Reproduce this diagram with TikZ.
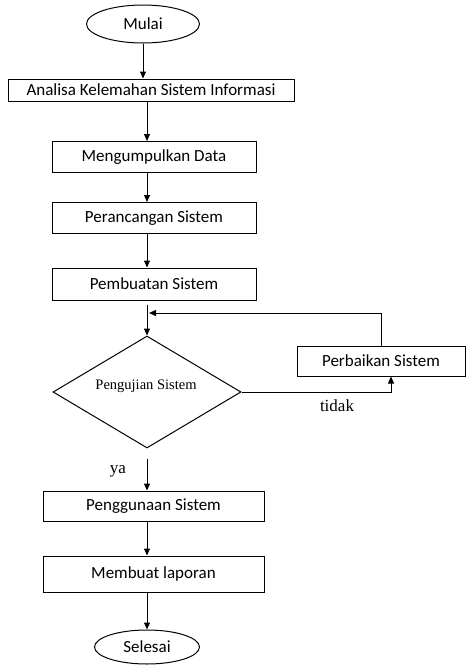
\documentclass[tikz,border=0pt]{standalone}
\usepackage{fontspec}
\setmainfont{Carlito}
\newfontfamily\timesfont{Liberation Serif}
\usetikzlibrary{shapes.geometric,arrows.meta}

\begin{document}
\begin{tikzpicture}[
        x=1pt,y=-1pt,
        box/.style={rectangle,draw,line width=1pt,inner sep=0pt,font=\fontsize{17}{19}\selectfont},
        terminal/.style={ellipse,draw,line width=1pt,inner sep=0pt,font=\fontsize{17}{19}\selectfont},
        decision/.style={diamond,draw,line width=1pt,inner sep=0pt},
        flow/.style={-{Triangle[length=7pt,width=6pt]},line width=1pt},
        note/.style={font=\timesfont\fontsize{17}{19}\selectfont}
    ]
        \useasboundingbox (0,0) rectangle (467,665);

        % Define the nodes
        \node[terminal,minimum width=113pt,minimum height=38pt] (mulai) at (143,24) {Mulai};
        \node[box,minimum width=286pt,minimum height=22pt] (analisa) at (151,90) {Analisa Kelemahan Sistem Informasi};
        \node[box,minimum width=204pt,minimum height=31pt] (kumpul) at (154,157) {Mengumpulkan Data};
        \node[box,minimum width=204pt,minimum height=31pt] (rancang) at (154,218) {Perancangan Sistem};
        \node[box,minimum width=204pt,minimum height=32pt] (buat) at (154,284) {Pembuatan Sistem};
        \node[decision,minimum width=188pt,minimum height=112pt] (uji) at (147,392) {};
        \node[note,font=\timesfont\fontsize{14.5}{17}\selectfont] (ujitext) at (146,386) {Pengujian Sistem};
        \node[box,minimum width=168pt,minimum height=30pt] (perbaikan) at (381,361) {Perbaikan Sistem};
        \node[box,minimum width=221pt,minimum height=30pt] (guna) at (153.5,506) {Penggunaan Sistem};
        \node[box,minimum width=221pt,minimum height=36pt] (laporan) at (153.5,574) {Membuat laporan};
        \node[terminal,minimum width=105pt,minimum height=34pt] (selesai) at (147,647) {Selesai};

        \coordinate (balik) at (149,313);

        % Draw the main flow
        \draw[flow] (mulai.south) -- (mulai.south |- analisa.north);
        \draw[flow] (uji.north |- analisa.south) -- (uji.north |- kumpul.north);
        \draw[flow] (uji.north |- kumpul.south) -- (uji.north |- rancang.north);
        \draw[flow] (uji.north |- rancang.south) -- (uji.north |- buat.north);
        \draw[flow] ([yshift=-4pt]uji.north |- buat.south) -- (uji.north);
        \draw[flow] ([yshift=-10pt]uji.south) -- (uji.south |- guna.north);
        \draw[flow] (uji.south |- guna.south) -- (uji.south |- laporan.north);
        \draw[flow] (uji.south |- laporan.south) -- (uji.south |- selesai.north);

        % Draw the repair loop
        \draw[flow] (uji.east) -| ([xshift=10pt]perbaikan.south);
        \draw[flow] (perbaikan.north) |- (balik);

        % Labels of the branches
        \node[note] (tidak) at (337,406) {tidak};
        \node[note] (ya) at (118,471) {ya};
    \end{tikzpicture}
\end{document}
